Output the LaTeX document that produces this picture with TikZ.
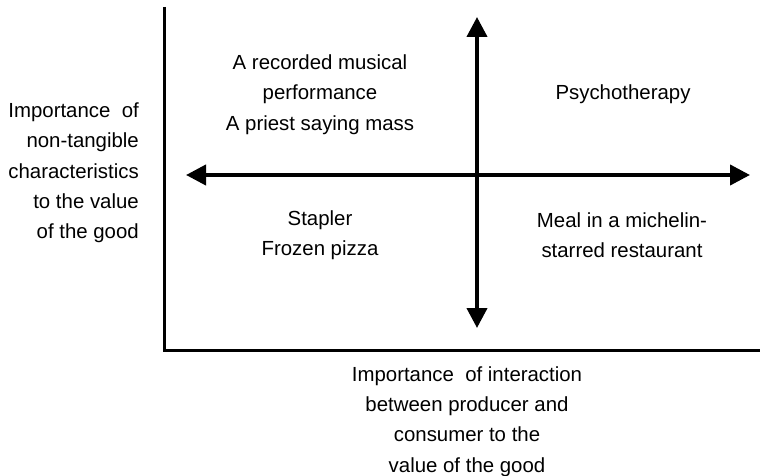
\documentclass[tikz,border=0pt]{standalone}
\usepackage{fontspec}
\setmainfont{Liberation Sans}
\usetikzlibrary{arrows.meta}
\begin{document}
\begin{tikzpicture}[x=1pt,y=-1pt,
  lbl/.style={inner sep=0pt,align=center,font=\fontsize{20.4}{30.3}\selectfont},
  axisline/.style={line width=3pt},
  bigarrow/.style={line width=4pt,{Triangle[length=20pt,width=20pt]}-{Triangle[length=20pt,width=20pt]}}]
\useasboundingbox (0,0) rectangle (760,476);
% frame axes
\coordinate (top) at (164.5,7);
\coordinate (corner) at (164.5,350);
\coordinate (right) at (760,350);
\draw[axisline] (top) -- (corner) -- (right);
% cross arrows
\coordinate (vt) at (477,17);
\coordinate (vb) at (477,328);
\coordinate (hl) at (186,175);
\coordinate (hr) at (750,175);
\draw[bigarrow] (vt) -- (vb);
\draw[bigarrow] (hl) -- (hr);
% quadrant labels
\node[lbl] (tl) at (320,94.5) {A recorded musical\\performance\\A priest saying mass};
\node[lbl] (tr) at (623,94.5) {Psychotherapy};
\node[lbl] (bl) at (320,235) {Stapler\\Frozen pizza};
\node[lbl] (br) at (622,235) {Meal in a michelin-\\starred restaurant};
% axis titles
\node[lbl,align=right,anchor=east] (ylab) at (139,173) {Importance\ \ of\\non-tangible\\characteristics\\to the value\\of the good};
\node[lbl] (xlab) at (467,421.5) {Importance\ \ of interaction\\between producer and\\consumer to the\\value of the good};
\end{tikzpicture}
\end{document}
